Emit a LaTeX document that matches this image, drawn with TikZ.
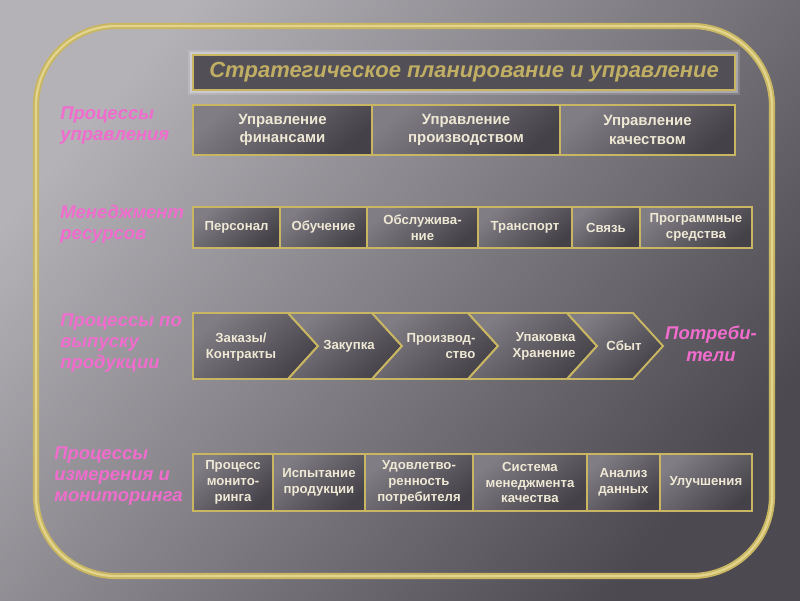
\documentclass[tikz,border=0pt]{standalone}
\usepackage{fontspec}
\setmainfont{Liberation Sans}
\usetikzlibrary{shapes}
\definecolor{gold}{RGB}{201,182,98}
\definecolor{goldlight}{RGB}{226,212,140}
\definecolor{pinklbl}{RGB}{240,108,205}
\definecolor{cream}{RGB}{238,232,212}
\definecolor{khaki}{RGB}{192,174,100}
\definecolor{celldark}{RGB}{68,65,72}
\definecolor{celllight}{RGB}{128,125,133}
\definecolor{titlefill}{RGB}{82,79,86}
\definecolor{bgtop}{RGB}{180,178,183}
\definecolor{bgbot}{RGB}{76,74,80}
\tikzstyle{frame} = [draw=gold, double=goldlight, line width=1.1pt, double distance=1.3pt, rounded corners=1.6cm]
\tikzstyle{titlebox} = [rectangle, draw=gold, line width=1.3pt, fill=titlefill, text=khaki, minimum width=10.84cm, minimum height=0.7cm, font=\bfseries\itshape\fontsize{12.5}{14}\selectfont, preaction={draw=white, line width=6pt, opacity=0.15}, preaction={draw=white, line width=3.5pt, opacity=0.3}]
\tikzstyle{cell} = [rectangle, draw=gold, line width=1.1pt, top color=celllight, bottom color=celldark, shading angle=40, text=cream, align=center, inner sep=1pt, font=\bfseries\fontsize{7.5}{9}\selectfont]
\tikzstyle{bigcell} = [cell, minimum height=1cm, font=\bfseries\fontsize{8.5}{10.5}\selectfont]
\tikzstyle{midcell} = [cell, minimum height=0.82cm]
\tikzstyle{lowcell} = [cell, minimum height=1.14cm]
\tikzstyle{chev} = [draw=gold, line width=1.1pt, line join=miter, top color=celllight, bottom color=celldark, shading angle=40]
\tikzstyle{chevtext} = [text=cream, inner sep=1pt, font=\bfseries\fontsize{7.5}{9}\selectfont]
\tikzstyle{lbl} = [text=pinklbl, align=left, anchor=west, inner sep=0pt, font=\bfseries\itshape\fontsize{10.5}{12}\selectfont]
\begin{document}
\begin{tikzpicture}[x=0.02cm, y=-0.02cm]

	\useasboundingbox (0,0) rectangle (800,600);
	\shade [top color=bgtop, bottom color=bgbot, shading angle=50] (0,0) rectangle (800,600);
	\draw [frame] (36,26) rectangle (772,576);
	
	\node [titlebox] (title) at (464,72.5) {Стратегическое планирование и управление};
	
	% процессы управления
	\node [lbl] (lblctrl) at (60,126) {Процессы\\управления};
	\node [bigcell, minimum width=3.58cm] (fin) at (282.5,130) {Управление\\финансами};
	\node [bigcell, right of=fin, node distance=3.67cm, minimum width=3.76cm] (prod) {Управление\\производством};
	\node [bigcell, right of=prod, node distance=3.63cm, minimum width=3.5cm] (qual) {Управление\\качеством};
	
	% менеджмент ресурсов
	\node [lbl] (lblres) at (60,224) {Менеджмент\\ресурсов};
	\node [midcell, minimum width=1.74cm] (staff) at (236.5,227.5) {Персонал};
	\node [midcell, right of=staff, node distance=1.74cm, minimum width=1.74cm] (train) {Обучение};
	\node [midcell, right of=train, node distance=1.98cm, minimum width=2.22cm] (serv) {Обслужива-\\ние};
	\node [midcell, right of=serv, node distance=2.05cm, minimum width=1.88cm] (trans) {Транспорт};
	\node [midcell, right of=trans, node distance=1.62cm, minimum width=1.36cm] (comm) {Связь};
	\node [midcell, right of=comm, node distance=1.8cm, minimum width=2.24cm] (soft) {Программные\\средства};
	
	% процессы по выпуску продукции
	\node [lbl] (lblout) at (60,343) {Процессы по\\выпуску\\продукции};
	\draw [chev] (193,313) -- (288,313) -- (318,346) -- (288,379) -- (193,379) -- cycle;
	\draw [chev] (288,313) -- (372,313) -- (402,346) -- (372,379) -- (288,379) -- (318,346) -- cycle;
	\draw [chev] (372,313) -- (468,313) -- (498,346) -- (468,379) -- (372,379) -- (402,346) -- cycle;
	\draw [chev] (468,313) -- (567,313) -- (597,346) -- (567,379) -- (468,379) -- (498,346) -- cycle;
	\draw [chev] (567,313) -- (633,313) -- (663,346) -- (633,379) -- (567,379) -- (597,346) -- cycle;
	\node [chevtext, align=center] (orders) at (241,347) {Заказы/\\Контракты};
	\node [chevtext] (buy) at (349,346) {Закупка};
	\node [chevtext, align=right] (make) at (441,346) {Производ-\\ство};
	\node [chevtext, align=right] (pack) at (544,346) {Упаковка\\Хранение};
	\node [chevtext] (sale) at (624,346) {Сбыт};
	\node [text=pinklbl, align=center, font=\bfseries\itshape\fontsize{10.5}{12.5}\selectfont] (cust) at (711,344) {Потреби-\\тели};
	
	% процессы измерения и мониторинга
	\node [lbl] (lblmon) at (54,476) {Процессы\\измерения и\\мониторинга};
	\node [lowcell, minimum width=1.6cm] (mon) at (233,482.5) {Процесс\\монито-\\ринга};
	\node [lowcell, right of=mon, node distance=1.72cm, minimum width=1.84cm] (test) {Испытание\\продукции};
	\node [lowcell, right of=test, node distance=2.0cm, minimum width=2.16cm] (sat) {Удовлетво-\\ренность\\потребителя};
	\node [lowcell, right of=sat, node distance=2.22cm, minimum width=2.28cm] (qms) {Система\\менеджмента\\качества};
	\node [lowcell, right of=qms, node distance=1.87cm, minimum width=1.46cm] (data) {Анализ\\данных};
	\node [lowcell, right of=data, node distance=1.65cm, minimum width=1.84cm] (impr) {Улучшения};

\end{tikzpicture}
\end{document}
